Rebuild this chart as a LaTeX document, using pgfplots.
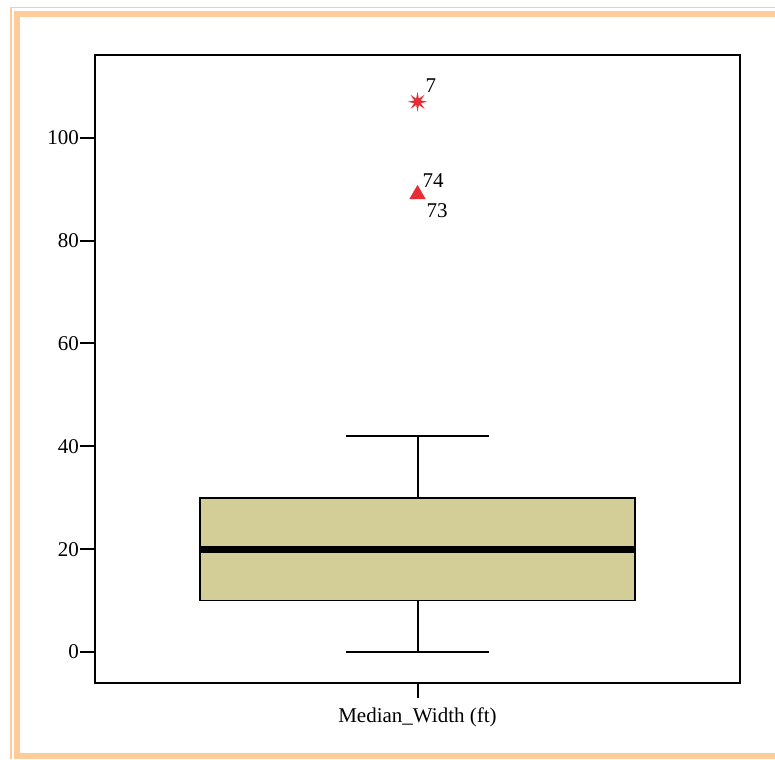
\documentclass[border=0pt]{standalone}
\usepackage{fontspec}
\setmainfont{Liberation Serif}
\usepackage{pgfplots}
\pgfplotsset{compat=1.18}
\usepgfplotslibrary{statistics}
\definecolor{frameor}{RGB}{255,204,153}
\definecolor{boxfill}{RGB}{211,206,152}
\definecolor{outred}{RGB}{232,44,54}
\pgfdeclareplotmark{spssstar}{%
  \pgfpathmoveto{\pgfqpointpolar{90}{\pgfplotmarksize}}%
  \foreach \k in {1,...,15}{%
    \pgfmathsetmacro{\ang}{90+\k*22.5}%
    \ifodd\k
      \pgfpathlineto{\pgfqpointpolar{\ang}{0.35\pgfplotmarksize}}%
    \else
      \pgfpathlineto{\pgfqpointpolar{\ang}{\pgfplotmarksize}}%
    \fi
  }%
  \pgfpathclose
  \pgfusepathqfill
}
\begin{document}
\begin{tikzpicture}
\path[use as bounding box] (0pt,0pt) rectangle (775pt,759pt);
% decorative frame
\draw[frameor, line width=1.8pt] (10.8pt,0pt) -- (10.8pt,751.5pt) -- (775pt,751.5pt);
\draw[frameor, line width=6pt] (17pt,3pt) -- (17pt,745pt) -- (775pt,745pt);
\draw[frameor, line width=6pt] (14pt,3pt) -- (775pt,3pt);
\begin{axis}[
  at={(95pt,76pt)}, anchor=south west,
  scale only axis, width=645pt, height=628pt,
  xmin=0, xmax=2, ymin=-6.03, ymax=116.1,
  axis line style={line width=2pt},
  tick align=outside,
  tick pos=left,
  major tick length=15pt,
  major tick style={line width=2pt, black},
  xtick={1}, xticklabels={Median\_Width (ft)},
  ytick={0,20,40,60,80,100},
  /pgf/number format/assume math mode=true,
  every tick label/.append style={font=\fontsize{21}{25}\selectfont},
  yticklabel style={inner sep=1pt},
  xticklabel style={inner sep=2pt, yshift=-8pt},
  clip=false,
]
\addplot+[boxplot prepared={
    lower whisker=0, lower quartile=10, median=20,
    upper quartile=30, upper whisker=42,
    draw position=1, box extend=1.349, whisker extend=0.446,
    draw direction=y,
    every median/.style={line width=7pt, black},
    every whisker/.style={line width=2pt, black},
    every box/.style={draw=black, fill=boxfill, line width=1.6pt}
  }, black, solid, mark=none] coordinates {};
\addplot[only marks, mark=spssstar, mark size=10pt, color=outred, fill=outred] coordinates {(1,107)};
\addplot[only marks, mark=triangle*, mark size=9pt, color=outred, fill=outred] coordinates {(1,89)};
\node[anchor=base west, inner sep=0pt, font=\fontsize{21}{25}\selectfont, xshift=8pt, yshift=9pt] at (axis cs:1,107) {7};
\node[anchor=base west, inner sep=0pt, font=\fontsize{21}{25}\selectfont, xshift=5pt, yshift=6.5pt] at (axis cs:1,89) {74};
\node[anchor=base west, inner sep=0pt, font=\fontsize{21}{25}\selectfont, xshift=9pt, yshift=-23.5pt] at (axis cs:1,89) {73};
\end{axis}
\end{tikzpicture}
\end{document}
